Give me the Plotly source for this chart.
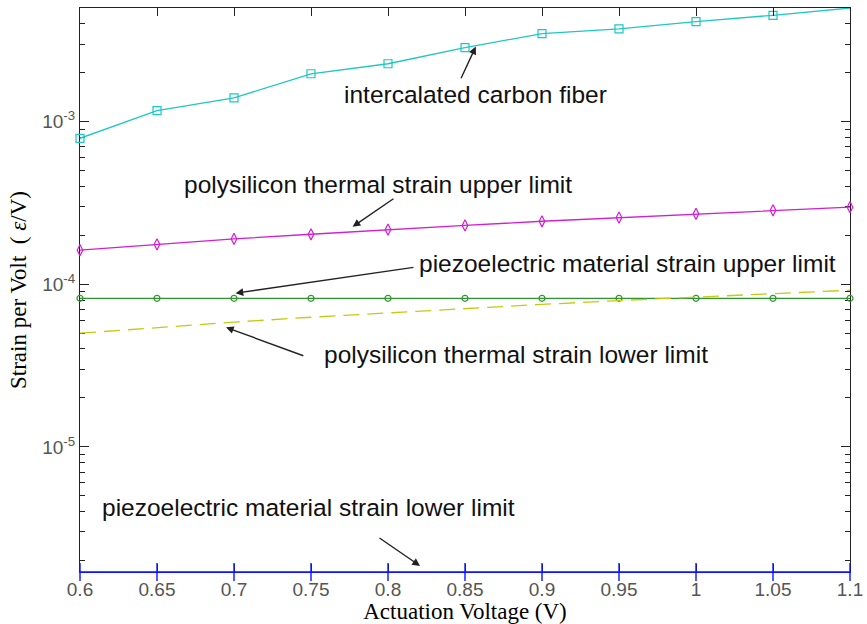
import numpy as np
import plotly.graph_objects as go

voltage = [0.6, 0.65, 0.7, 0.75, 0.8, 0.85, 0.9, 0.95, 1.0, 1.05, 1.1]
carbon_fiber = [7.9e-4, 1.17e-3, 1.40e-3, 1.97e-3, 2.27e-3, 2.85e-3, 3.48e-3, 3.72e-3, 4.12e-3, 4.51e-3, 5.0e-3]
poly_upper = [1.62e-4, 1.76e-4, 1.90e-4, 2.03e-4, 2.17e-4, 2.30e-4, 2.44e-4, 2.57e-4, 2.71e-4, 2.85e-4, 2.98e-4]
piezo_upper = [8.2e-5] * 11
poly_lower = [5.0e-5, 5.43e-5, 5.85e-5, 6.27e-5, 6.68e-5, 7.10e-5, 7.52e-5, 7.94e-5, 8.35e-5, 8.77e-5, 9.19e-5]
piezo_lower = [1.7e-6] * 11

xtick_vals = [0.6, 0.65, 0.7, 0.75, 0.8, 0.85, 0.9, 0.95, 1.0, 1.05, 1.1]
xtick_text = ["0.6", "0.65", "0.7", "0.75", "0.8", "0.85", "0.9", "0.95", "1", "1.05", "1.1"]
ytick_vals = [1e-5, 1e-4, 1e-3]
ytick_text = ["10<sup>-5</sup>", "10<sup>-4</sup>", "10<sup>-3</sup>"]
yminor_vals = [m * 10.0 ** e for e in (-6, -5, -4, -3) for m in range(2, 10)]

BLUE = "#0a14ff"

fig = go.Figure()
# carbon fiber drawn on the top x axis (same range) so that the top frame axis is rendered
fig.add_trace(go.Scatter(x=voltage, y=carbon_fiber, mode="lines+markers", xaxis="x2",
                         line=dict(color="#1fc6c6", width=1.3),
                         marker=dict(symbol="square-open", size=8, color="#1fc6c6", line=dict(width=1.2)),
                         cliponaxis=False))
fig.add_trace(go.Scatter(x=voltage, y=poly_upper, mode="lines+markers",
                         line=dict(color="#d21ed2", width=1.3),
                         marker=dict(symbol="diamond-tall-open", size=8, color="#d21ed2", line=dict(width=1.2)),
                         cliponaxis=False))
fig.add_trace(go.Scatter(x=voltage, y=piezo_upper, mode="lines+markers",
                         line=dict(color="#2e962e", width=1.3),
                         marker=dict(symbol="circle-open", size=6, color="#2e962e", line=dict(width=1.2)),
                         cliponaxis=False))
fig.add_trace(go.Scatter(x=voltage, y=poly_lower, mode="lines",
                         line=dict(color="#c8c814", width=1.3, dash="16px,8px"),
                         cliponaxis=False))
fig.add_trace(go.Scatter(x=voltage, y=piezo_lower, mode="lines+markers",
                         line=dict(color=BLUE, width=1.5),
                         marker=dict(symbol="line-ns-open", size=13, color=BLUE, line=dict(width=1.4, color=BLUE)),
                         cliponaxis=False))

ann_font = dict(family="Liberation Sans, Arial", size=24.5, color="#111")
labels = [
    ("intercalated carbon fiber", 0.857, -2.834, "center"),
    ("polysilicon thermal strain upper limit", 0.666, -3.388, "left"),
    ("piezoelectric material strain upper limit", 0.8188, -3.871, "left"),
    ("polysilicon thermal strain lower limit", 0.757, -4.434, "left"),
    ("piezoelectric material strain lower limit", 0.613, -5.375, "left"),
]
for txt, x, y, anchor in labels:
    fig.add_annotation(x=x, y=y, xref="x", yref="y", text=txt, showarrow=False,
                       xanchor=anchor, yanchor="middle", font=ann_font)

arrows = [
    (0.857, -2.538, 0.847, -2.742),
    (0.777, -3.646, 0.8045, -3.468),
    (0.701, -4.055, 0.8175, -3.895),
    (0.6948, -4.265, 0.746, -4.443),
    (0.8208, -5.732, 0.7935, -5.554),
]
for hx, hy, tx, ty in arrows:
    fig.add_annotation(x=hx, y=hy, xref="x", yref="y", ax=tx, ay=ty, axref="x", ayref="y",
                       text="", showarrow=True, arrowhead=2, arrowsize=1.1, arrowwidth=1.4,
                       arrowcolor="#222")

tick_font = dict(family="Liberation Sans, Arial", size=19, color="#555")
title_font = dict(family="Liberation Serif, Times New Roman", size=23, color="#000")

fig.update_layout(
    width=867, height=624,
    margin=dict(l=80, r=17, t=8, b=52),
    paper_bgcolor="white", plot_bgcolor="white",
    showlegend=False,
    xaxis=dict(range=[0.6, 1.1], tickmode="array", tickvals=xtick_vals, ticktext=xtick_text,
               ticks="inside", ticklen=8, tickcolor="#222", showline=True, linecolor=BLUE,
               linewidth=1.3, mirror=False, showgrid=False, zeroline=False, automargin=False,
               layer="below traces", tickfont=tick_font,
               title=dict(text="Actuation Voltage (V)", font=title_font, standoff=6)),
    xaxis2=dict(range=[0.6, 1.1], overlaying="x", side="top", tickmode="array",
                tickvals=xtick_vals, showticklabels=False, ticks="inside", ticklen=8,
                tickcolor="#222", showline=True, linecolor="#222", linewidth=1.2,
                showgrid=False, zeroline=False, automargin=False),
    yaxis=dict(type="log", range=[np.log10(1.7e-6), np.log10(5.0e-3)], tickmode="array",
               tickvals=ytick_vals, ticktext=ytick_text, ticks="inside", ticklen=9, tickcolor="#222",
               showline=True, linecolor="#222", linewidth=1.2, mirror="ticks", showgrid=False,
               zeroline=False, layer="below traces", tickfont=tick_font, automargin=False,
               minor=dict(tickmode="array", tickvals=yminor_vals, ticks="inside", ticklen=5,
                          tickcolor="#222", showgrid=False),
               title=dict(text="Strain per Volt  ( <i>ε</i>/V)", font=dict(family="Liberation Serif, Times New Roman", size=23, color="#000"), standoff=9)),
)

fig.write_html("out.html")
